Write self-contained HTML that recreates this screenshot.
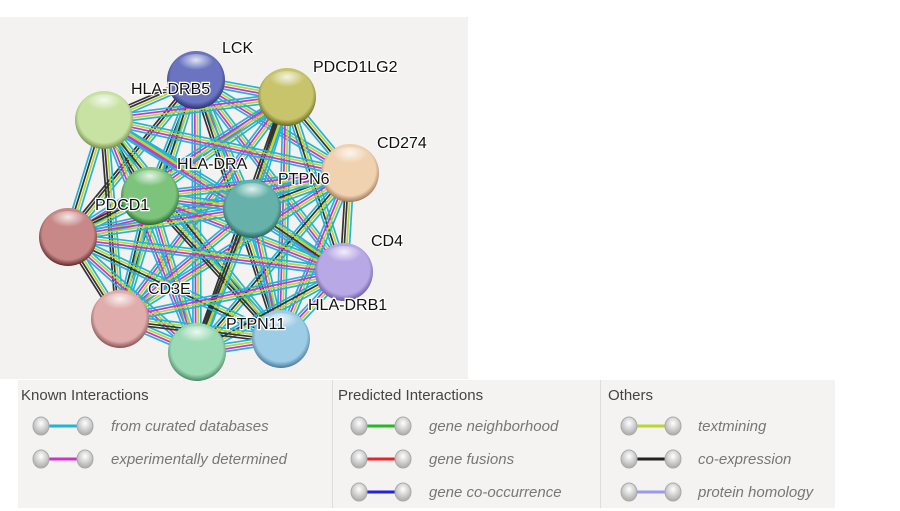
<!DOCTYPE html>
<html><head><meta charset="utf-8"><style>
body{margin:0;width:900px;height:511px;background:#fff;position:relative;overflow:hidden;font-family:"Liberation Sans",sans-serif}
#net{position:absolute;left:0;top:17px;width:468px;height:362px;background:#f3f2f0}
svg{position:absolute;left:0;top:0;z-index:2}
.lab{font-family:"Liberation Sans",sans-serif;font-size:16px;fill:#111;stroke:#fff;stroke-width:2.5px;paint-order:stroke}
#leg{position:absolute;left:18px;top:380px;width:817px;height:128px;background:#f4f3f1}
.t{position:absolute;top:7px;font-size:15px;color:#444}
.row{position:absolute;left:0;font-size:15px;color:#777;font-style:italic}
.div{position:absolute;top:0;width:1px;height:128px;background:#ddd}
</style></head><body>
<div id="net"></div>
<div id="leg">
<div class="t" style="left:3px">Known Interactions</div>
<div class="div" style="left:314px"></div>
<div class="t" style="left:320px">Predicted Interactions</div>
<div class="div" style="left:582px"></div>
<div class="t" style="left:590px">Others</div>
<div class="row" style="left:93px;top:38px">from curated databases</div>
<div class="row" style="left:93px;top:71px">experimentally determined</div>
<div class="row" style="left:411px;top:38px">gene neighborhood</div>
<div class="row" style="left:411px;top:71px">gene fusions</div>
<div class="row" style="left:411px;top:104px">gene co-occurrence</div>
<div class="row" style="left:680px;top:38px">textmining</div>
<div class="row" style="left:680px;top:71px">co-expression</div>
<div class="row" style="left:680px;top:104px">protein homology</div>
</div>
<svg width="900" height="511" id="s">
<defs>
<radialGradient id="hl" cx="50%" cy="30%" r="50%"><stop offset="0" stop-color="#fff" stop-opacity=".8"/><stop offset="1" stop-color="#fff" stop-opacity="0"/></radialGradient>
<radialGradient id="gb" cx="50%" cy="35%" r="60%"><stop offset="0" stop-color="#fff"/><stop offset="1" stop-color="#b0b0b0"/></radialGradient>
</defs>
<g id="edges"></g><g id="nodes"></g><g id="lg"></g>
<g>
<text class="lab" x="222" y="53">LCK</text>
<text class="lab" x="313" y="72">PDCD1LG2</text>
<text class="lab" x="131" y="94">HLA-DRB5</text>
<text class="lab" x="377" y="148">CD274</text>
<text class="lab" x="177" y="169">HLA-DRA</text>
<text class="lab" x="278" y="184">PTPN6</text>
<text class="lab" x="95" y="210">PDCD1</text>
<text class="lab" x="371" y="246">CD4</text>
<text class="lab" x="148" y="294">CD3E</text>
<text class="lab" x="308" y="310">HLA-DRB1</text>
<text class="lab" x="226" y="329">PTPN11</text>
</g>
</svg>
<script>
var N=[[196,80,'#6a74c0','#2a3070'],[287,97,'#c8c46c','#6a6a20'],[104,120,'#c8e2a4','#78904a'],[350,173,'#f0d2b0','#a0785a'],[150,196,'#7cc47c','#2a6a2a'],[252,209,'#66b2aa','#2a6460'],[68,237,'#c88888','#602828'],[344,272,'#b8a8e6','#6a5aa0'],[120,319,'#e0acac','#8a5050'],[197,352,'#9cdab6','#4a8a64'],[281,339,'#9ccce6','#4a7a9a']];
var C=['#22b4d8','#cc33cc','#b8d830','#333333'];
var e='';
for(var i=0;i<N.length;i++)for(var j=i+1;j<N.length;j++){
 var a=N[i],b=N[j],dx=b[0]-a[0],dy=b[1]-a[1],L=Math.hypot(dx,dy),px=-dy/L,py=dx/L;
 var k=(i*7+j*3)%4;var cs=[C[0],C[2],C[(k%2)?1:3],C[k==2?3:0]];
 for(var m=0;m<4;m++){var o=(m-1.5)*2.6;
 e+='<line x1="'+(a[0]+px*o)+'" y1="'+(a[1]+py*o)+'" x2="'+(b[0]+px*o)+'" y2="'+(b[1]+py*o)+'" stroke="'+cs[m]+'" stroke-width="1.7"/>';}
}
document.getElementById('edges').innerHTML=e;
var n='';
N.forEach(function(p,i){n+='<defs><radialGradient id="g'+i+'" cx="50%" cy="45%" r="55%"><stop offset="0" stop-color="'+p[2]+'"/><stop offset=".8" stop-color="'+p[2]+'"/><stop offset="1" stop-color="'+p[3]+'"/></radialGradient></defs><circle cx="'+p[0]+'" cy="'+p[1]+'" r="29" fill="url(#g'+i+')"/><ellipse cx="'+p[0]+'" cy="'+(p[1]-16)+'" rx="18" ry="10" fill="url(#hl)"/>';});
document.getElementById('nodes').innerHTML=n;
var l='',ys=[426,459,492],cols=[[0,'#22b4d8',0],[0,'#cc33cc',1],[1,'#22bb22',0],[1,'#ee2222',1],[1,'#2222dd',2],[2,'#b8d830',0],[2,'#222',1],[2,'#9999ee',2]],xs=[41,359,629];
cols.forEach(function(c){var x=xs[c[0]],y=ys[c[2]];l+='<line x1="'+x+'" y1="'+y+'" x2="'+(x+44)+'" y2="'+y+'" stroke="'+c[1]+'" stroke-width="3"/><ellipse cx="'+x+'" cy="'+y+'" rx="8" ry="9" fill="url(#gb)" stroke="#aaa"/><ellipse cx="'+(x+44)+'" cy="'+y+'" rx="8" ry="9" fill="url(#gb)" stroke="#aaa"/>';});
document.getElementById('lg').innerHTML=l;
</script>
</body></html>
